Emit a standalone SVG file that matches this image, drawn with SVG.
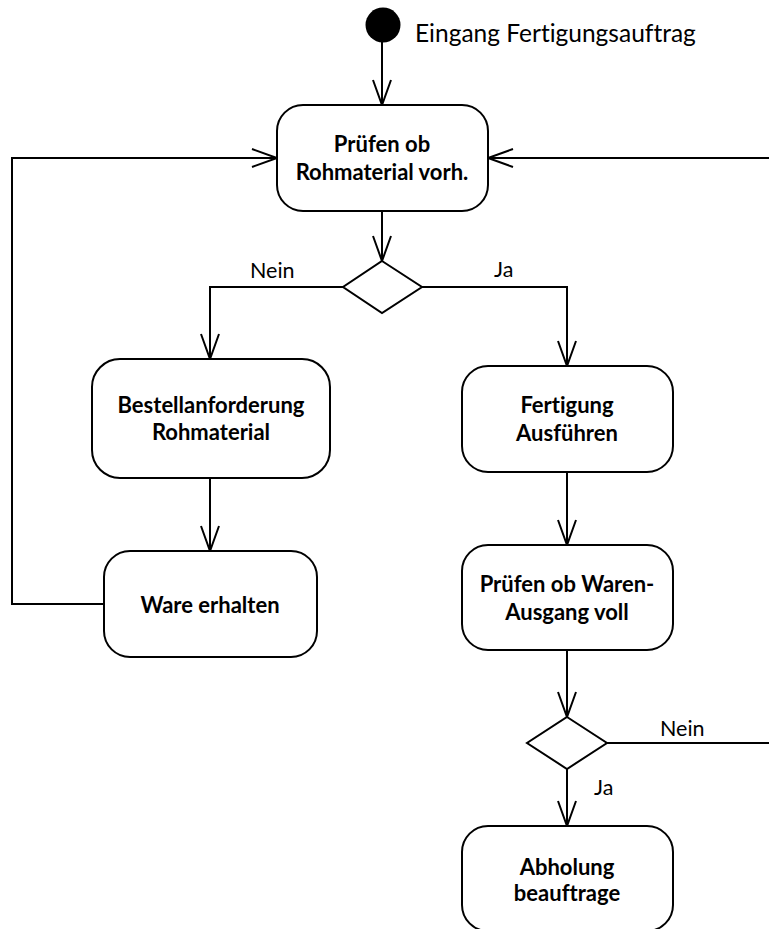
<svg xmlns="http://www.w3.org/2000/svg" width="769" height="929" viewBox="0 0 769 929">
  <style>
    .act { fill: #ffffff; stroke: #000000; stroke-width: 2; }
    .dec { fill: #ffffff; stroke: #000000; stroke-width: 2; }
    .flow { fill: none; stroke: #000000; stroke-width: 2; }
    text { font-variant-ligatures: none; }
    .t { font-family: Lato, "Liberation Sans", sans-serif; font-weight: bold; font-size: 22px; fill: #000000; text-anchor: middle; }
    .lbl { font-family: Lato, "Liberation Sans", sans-serif; font-size: 21.5px; fill: #000000; }
  </style>
  <defs>
    <marker id="open" markerUnits="userSpaceOnUse" markerWidth="30" markerHeight="24" refX="26" refY="10" orient="auto">
      <path d="M1,1 L26,10 L1,19" fill="none" stroke="#000000" stroke-width="2"/>
    </marker>
  </defs>

  <!-- connectors -->
  <g id="connectors">
    <path class="flow" d="M382,42 L382,105" marker-end="url(#open)"/>
    <path class="flow" d="M382,211 L382,261" marker-end="url(#open)"/>
    <path class="flow" d="M343,287 L210,287 L210,359" marker-end="url(#open)"/>
    <path class="flow" d="M422,287 L567,287 L567,366" marker-end="url(#open)"/>
    <path class="flow" d="M210,478 L210,551" marker-end="url(#open)"/>
    <path class="flow" d="M104,604 L12,604 L12,158 L277,158" marker-end="url(#open)"/>
    <path class="flow" d="M567,472 L567,545" marker-end="url(#open)"/>
    <path class="flow" d="M567,650 L567,717" marker-end="url(#open)"/>
    <path class="flow" d="M567,769 L567,826" marker-end="url(#open)"/>
    <path class="flow" d="M607,743 L769,743"/>
    <path class="flow" d="M769,158 L488,158" marker-end="url(#open)"/>
    <text class="lbl" x="250" y="278">Nein</text>
    <text class="lbl" x="494" y="277">Ja</text>
    <text class="lbl" x="660" y="736">Nein</text>
    <text class="lbl" x="594" y="795">Ja</text>
  </g>

  <!-- start -->
  <g id="start">
    <circle cx="383" cy="25" r="17.5" fill="#000000"/>
    <text class="lbl" x="415" y="42" style="font-size:24.5px">Eingang Fertigungsauftrag</text>
  </g>

  <g id="pruefen-rohmaterial">
    <rect class="act" x="277" y="105" width="211" height="106" rx="26"/>
    <text class="t" x="382" y="152">Prüfen ob</text>
    <text class="t" x="382" y="180">Rohmaterial vorh.</text>
  </g>

  <g id="decision-rohmaterial">
    <polygon class="dec" points="382,261 422,287 382,313 343,287"/>
  </g>

  <g id="bestellanforderung">
    <rect class="act" x="92" y="359" width="238" height="119" rx="28"/>
    <text class="t" x="211" y="413">Bestellanforderung</text>
    <text class="t" x="211" y="440">Rohmaterial</text>
  </g>

  <g id="ware-erhalten">
    <rect class="act" x="104" y="551" width="213" height="106" rx="26"/>
    <text class="t" x="210" y="613">Ware erhalten</text>
  </g>

  <g id="fertigung">
    <rect class="act" x="462" y="366" width="211" height="106" rx="26"/>
    <text class="t" x="567" y="413">Fertigung</text>
    <text class="t" x="567" y="441">Ausführen</text>
  </g>

  <g id="pruefen-warenausgang">
    <rect class="act" x="462" y="545" width="211" height="105" rx="26"/>
    <text class="t" x="567" y="592">Prüfen ob Waren-</text>
    <text class="t" x="567" y="620">Ausgang voll</text>
  </g>

  <g id="decision-warenausgang">
    <polygon class="dec" points="567,717 607,743 567,769 527,743"/>
  </g>

  <g id="abholung">
    <rect class="act" x="462" y="826" width="211" height="105" rx="26"/>
    <text class="t" x="567" y="875">Abholung</text>
    <text class="t" x="567" y="901">beauftrage</text>
  </g>
</svg>
